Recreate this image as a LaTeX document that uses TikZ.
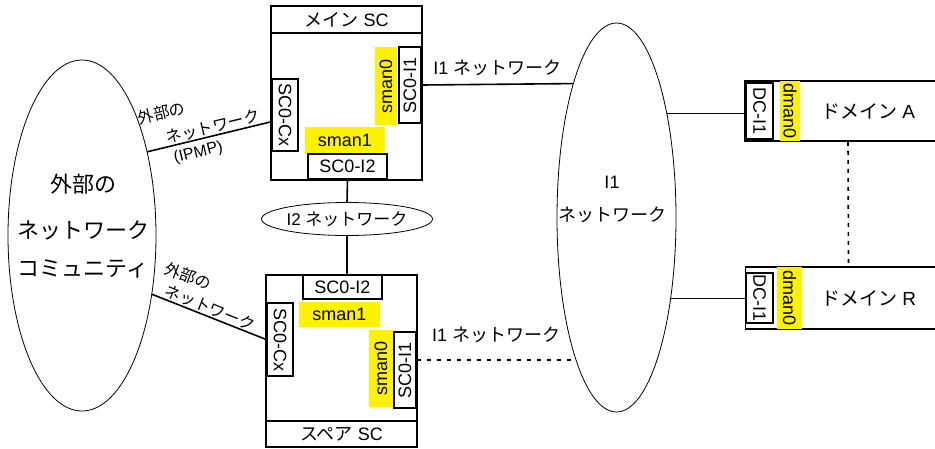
\documentclass[tikz,border=0pt]{standalone}
\usepackage{fontspec}
\setmainfont{Liberation Sans}
\newfontfamily\jp{Noto Sans CJK JP}
\usetikzlibrary{shapes.geometric}
\newcommand{\txt}{\fontsize{18}{21}\selectfont}
\tikzstyle{scbox}  = [rectangle, draw=black, line width=1.6pt, inner sep=0pt, minimum width=151pt, font=\txt]
\tikzstyle{port}   = [rectangle, draw=black, line width=1.6pt, inner sep=0pt, font=\txt]
\tikzstyle{man}    = [rectangle, fill=yellow, inner sep=0pt, font=\txt]
\tikzstyle{net}    = [ellipse, draw=black, line width=0.8pt, inner sep=0pt]
\tikzstyle{lbl}    = [inner sep=0pt, font=\txt]
\tikzstyle{extlbl} = [inner sep=0pt, font=\fontsize{16}{19}\selectfont]
\tikzstyle{link}   = [line width=1.6pt]
\tikzstyle{dom}    = [rectangle, draw=black, line width=1.6pt, inner sep=0pt, minimum width=246pt, font=\fontsize{19}{22}\selectfont]

\begin{document}
\begin{tikzpicture}[x=1pt, y=-1pt]
    \useasboundingbox (0,0) rectangle (935,448);
    \clip (0,0) rectangle (935,448);

    % main SC
    \node (main)    [scbox, minimum height=174pt] at (346.5,93) {};
    \node (mainhdr) [scbox, minimum height=27pt, anchor=north] at (main.north) {{\jp メイン} SC};
    \node (mi1)     [port, rotate=90, minimum width=76pt, minimum height=22pt] at (410,85) {SC0-I1};
    \node (msman0)  [man, rotate=90, minimum width=78pt, minimum height=22pt] at (386,86) {sman0};
    \node (mcx)     [port, rotate=-90, minimum width=72pt, minimum height=26pt] at (285,115) {SC0-Cx};
    \node (msman1)  [man, minimum width=80pt, minimum height=26pt] at (345,140) {sman1};
    \node (mi2)     [port, minimum width=79pt, minimum height=25pt] at (347.5,166.5) {SC0-I2};

    % spare SC
    \node (spare)    [scbox, minimum height=172pt] at (341.5,361) {};
    \node (sparehdr) [scbox, minimum height=26pt, anchor=south] at (spare.south) {{\jp スペア} SC};
    \node (si2)      [port, minimum width=79pt, minimum height=24pt] at (342.5,287) {SC0-I2};
    \node (ssman1)   [man, minimum width=81pt, minimum height=25pt] at (339.5,314.5) {sman1};
    \node (scx)      [port, rotate=-90, minimum width=73pt, minimum height=26pt] at (280,339.5) {SC0-Cx};
    \node (ssman0)   [man, rotate=90, minimum width=77pt, minimum height=24pt] at (381,368.5) {sman0};
    \node (si1)      [port, rotate=90, minimum width=76pt, minimum height=22pt] at (405,370) {SC0-I1};

    % networks
    \node (i2net)  [net, minimum width=142pt, minimum height=33pt, font=\fontsize{17}{20}\selectfont] at (347,219) {I2 {\jp ネットワーク}};
    \node (extnet) [net, minimum width=148pt, minimum height=351pt] at (82,235.5) {};
    \node (extlbl) [align=center, inner sep=0pt, font=\fontsize{22}{38}\selectfont\jp] at (83,226) {外部の\\[8pt]ネットワーク\\コミュニティ};
    \node (i1net)  [net, minimum width=119pt, minimum height=389pt] at (616.5,217.5) {};
    \node (i1lbl)  [lbl, align=center, font=\fontsize{18}{33}\selectfont] at (612,199) {I1\\{\jp ネットワーク}};

    % domains
    \node (doma)  [dom, minimum height=60pt] at (868,111) {{\jp ドメイン} A};
    \node (adc)   [port, rotate=-90, minimum width=56pt, minimum height=27pt] at (759.5,111) {DC-I1};
    \node (adman) [man, rotate=-90, minimum width=60pt, minimum height=20pt] at (790,111) {dman0};
    \node (domr)  [dom, minimum height=62pt] at (868.5,298) {{\jp ドメイン} R};
    \node (rdc)   [port, rotate=-90, minimum width=50pt, minimum height=27pt] at (759.5,298) {DC-I1};
    \node (rdman) [man, rotate=-90, minimum width=62pt, minimum height=25pt] at (789.5,298) {dman0};

    % links
    \draw [link] (mi2.south) -- (i2net.north);
    \draw [link] (i2net.south) -- (i2net.south |- spare.north);
    \draw [link] (extnet.52) -- ([yshift=-29pt]main.west)
        node (ext1a) [extlbl, pos=0.18, sloped, above=26pt] {\jp 外部の}
        node (ext1b) [extlbl, pos=0.55, sloped, above=1pt] {\jp ネットワーク}
        node (ext1c) [extlbl, pos=0.39, sloped, below=5pt] {(IPMP)};
    \draw [link] (extnet.-40) -- (scx.south)
        node (ext2a) [extlbl, pos=0.22, sloped, above=22pt] {\jp 外部の}
        node (ext2b) [extlbl, pos=0.48, sloped, above=1pt] {\jp ネットワーク};
    \draw [link] (mi1.south) -- (i1net.108)
        node (i1up) [lbl, midway, above=8pt] {I1 {\jp ネットワーク}};
    \draw [link, dash pattern=on 4pt off 6pt] ([yshift=10pt]si1.south) -- (i1net.254)
        node (i1dn) [lbl, midway, above=16pt] {I1 {\jp ネットワーク}};
    \draw [link] (i1net.64) -- (i1net.64 -| doma.west);
    \draw [link] (i1net.-56) -- (i1net.-56 -| domr.west);
    \draw [link, dash pattern=on 4pt off 5pt] ([xshift=-20pt]doma.south) -- ([xshift=-20pt]domr.north);

\end{tikzpicture}
\end{document}
